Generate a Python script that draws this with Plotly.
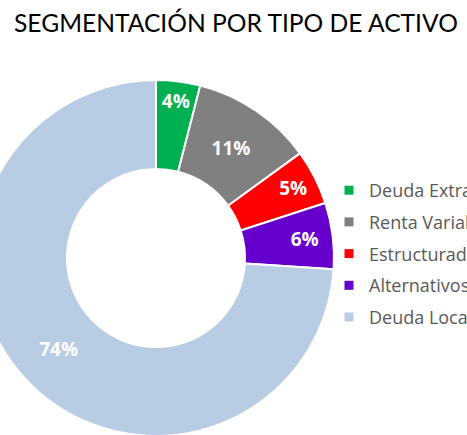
import plotly.graph_objects as go

# datos de la segmentación
labels = ["Deuda Extranjera", "Renta Variable", "Estructurados", "Alternativos", "Deuda Local"]
values = [4, 11, 5, 6, 74]
colors = ["#00B050", "#808080", "#FF0000", "#6600CC", "#B8CCE4"]

W, H = 560, 440
SHIFT = 22  # el gráfico original está recortado por la izquierda

fig = go.Figure()

fig.add_trace(go.Pie(
    labels=labels, values=values, sort=False, direction="clockwise", rotation=0,
    hole=0.5,
    marker=dict(colors=colors, line=dict(color="white", width=2)),
    texttemplate="%{value}%", textposition="inside", insidetextorientation="horizontal",
    textfont=dict(family="Open Sans", size=19, color="white", weight="bold"),
    domain=dict(x=[0, 356 / W], y=[4 / H, 360 / H]),
    showlegend=False,
))

# leyenda con cuadrados pequeños, como en Excel
for lab, col in zip(labels, colors):
    fig.add_trace(go.Scatter(
        x=[None], y=[None], mode="markers", name=lab, legendgroup=lab,
        marker=dict(symbol="square", size=9, color=col),
    ))

fig.update_layout(
    width=W, height=H,
    margin=dict(l=0, r=0, t=0, b=0, autoexpand=False),
    paper_bgcolor="white", plot_bgcolor="white",
    xaxis=dict(visible=False), yaxis=dict(visible=False),
    title=dict(text="SEGMENTACIÓN POR TIPO DE ACTIVO", x=36 / W, xanchor="left",
               y=1 - 15 / H, yanchor="top",
               font=dict(family="Lato", size=24.6, color="black")),
    legend=dict(x=351 / W, xanchor="left", y=1 - 172 / H, yanchor="top",
                font=dict(family="Open Sans", size=18, color="#595959"),
                tracegroupgap=5.3, itemsizing="trace", bgcolor="rgba(0,0,0,0)"),
    uniformtext=dict(minsize=19, mode="show"),
)

fig.write_html("out.html", config={"displayModeBar": False}, post_script=(
    "document.body.style.margin='0';document.body.style.overflow='hidden';"
    "document.getElementById('{plot_id}').style.marginLeft='-%dpx';" % SHIFT))
